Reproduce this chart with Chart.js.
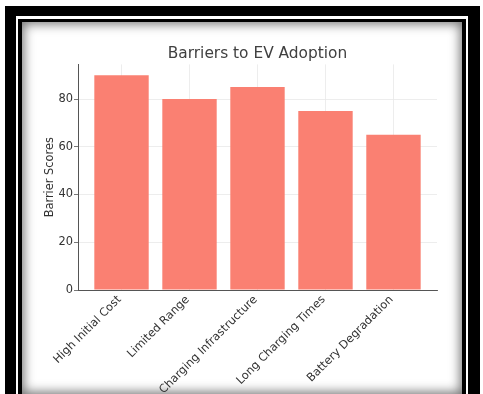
<!DOCTYPE html>
<html>
<head>
<meta charset="utf-8">
<title>Barriers to EV Adoption</title>
<script src="https://cdn.jsdelivr.net/npm/chart.js@4"></script>
<style>
  html, body { margin: 0; padding: 0; background: #fff; width: 483px; height: 394px; overflow: hidden; }
  .frame { position: absolute; }
  #outer { left: 5px; top: 6px; width: 475px; height: 388px; background: #000; }
  #ring { left: 16px; top: 16px; width: 452px; height: 378px; background: #fff; }
  #inner { left: 18px; top: 19px; width: 448px; height: 375px; background: #000; }
  #panel { left: 22px; top: 22px; width: 440px; height: 372px; background: #fff; overflow: hidden;
           box-shadow: inset 0 0 11px 2px rgba(0, 0, 0, 0.55); }
  #chart { position: absolute; left: 0; top: 0; }
</style>
</head>
<body>
<div class="frame" id="outer"></div>
<div class="frame" id="ring"></div>
<div class="frame" id="inner"></div>
<div class="frame" id="panel">
  <canvas id="chart" width="440" height="372"></canvas>
</div>
<script>
const chartTitle = "Barriers to EV Adoption";
const yTitle = "Barrier Scores";
const categories = ["High Initial Cost", "Limited Range", "Charging Infrastructure", "Long Charging Times", "Battery Degradation"];
const scores = [90, 80, 85, 75, 65];
const yTicks = [0, 20, 40, 60, 80];

document.addEventListener("DOMContentLoaded", function () {
  const font = "'DejaVu Sans', sans-serif";

  // matplotlib-like limits: bars 0.8 wide with 5% margins
  const barSpan = categories.length - 1 + 0.8;
  const xMin = -0.4 - 0.05 * barSpan;
  const xMax = categories.length - 1 + 0.4 + 0.05 * barSpan;
  const yMax = Math.max(...scores) * 1.05;

  const titlePlugin = {
    id: "axesTitle",
    afterDraw(chart) {
      const { ctx, chartArea } = chart;
      ctx.save();
      ctx.font = "15.4px " + font;
      ctx.fillStyle = "#404040";
      ctx.textAlign = "center";
      ctx.textBaseline = "middle";
      ctx.fillText(chartTitle, (chartArea.left + chartArea.right) / 2, chartArea.top - 10.5);
      ctx.restore();
    },
  };

  const ctx = document.getElementById("chart").getContext("2d");
  new Chart(ctx, {
    type: "bar",
    data: {
      datasets: [
        {
          data: categories.map(function (c, i) { return { x: i, y: scores[i] }; }),
          backgroundColor: "#FA8072",
          borderWidth: 0,
          categoryPercentage: 0.8,
          barPercentage: 1,
        },
      ],
    },
    options: {
      responsive: false,
      animation: false,
      layout: { padding: { left: 0, right: 25, top: 42.4, bottom: 0 } },
      plugins: {
        legend: { display: false },
        title: { display: false },
        tooltip: { enabled: false },
      },
      scales: {
        x: {
          type: "linear",
          min: xMin,
          max: xMax,
          offset: false,
          grid: { offset: false, color: "#e8e8e8", lineWidth: 0.8, drawTicks: false },
          border: { color: "#555", width: 1 },
          afterBuildTicks: function (scale) {
            scale.ticks = categories.map(function (c, i) { return { value: i }; });
          },
          afterFit: function (scale) { scale.height = 104; },
          ticks: {
            autoSkip: false,
            minRotation: 45,
            maxRotation: 45,
            padding: 3,
            labelOffset: -2,
            color: "#333",
            font: { family: font, size: 11.4 },
            callback: function (value) { return categories[value]; },
          },
        },
        y: {
          min: 0,
          max: yMax,
          grid: { color: "#e8e8e8", lineWidth: 0.8, tickLength: 4, tickColor: "#555" },
          border: { color: "#555", width: 1 },
          afterBuildTicks: function (scale) {
            scale.ticks = yTicks.map(function (v) { return { value: v }; });
          },
          afterFit: function (scale) { scale.width = 56; },
          ticks: {
            padding: 1,
            color: "#333",
            font: { family: font, size: 11.4 },
          },
          title: {
            display: true,
            text: yTitle,
            color: "#333",
            font: { family: font, size: 11.4 },
            padding: { top: 21, bottom: 0 },
          },
        },
      },
    },
    plugins: [titlePlugin],
  });
});
</script>
</body>
</html>
